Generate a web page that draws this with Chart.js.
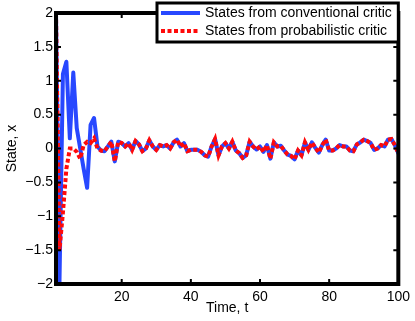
<!DOCTYPE html>
<html>
<head>
<meta charset="utf-8">
<script src="https://cdn.jsdelivr.net/npm/chart.js@4.4.1/dist/chart.umd.min.js"></script>
<style>
  html, body { margin: 0; padding: 0; background: #fff; }
  #wrap { width: 415px; height: 321px; position: relative; }
</style>
</head>
<body>
<div id="wrap"><canvas id="stateChart"></canvas></div>
<script>
// time axis t = 1..100
const timeSteps = Array.from({ length: 100 }, (_, i) => i + 1);

// first 13 steps (the transient) differ between the two critics
const conventionalStart = [2, -2, 1.1, 1.28, 0.15, 1.12, 0.3, 0.0, -0.3, -0.58, 0.35, 0.45, 0.03];
const probabilisticStart = [2, -1.5, -0.95, -0.3, 0.0, 0.0, -0.05, -0.15, 0.05, 0.1, 0.08, 0.15, 0.0];

// t = 14..100, both curves lie on top of each other
const steadyTail = [
  -0.03, -0.04, 0.03, 0.1, -0.19, 0.1, 0.08, 0.03, 0.08, -0.02,
  0.11, 0.06, -0.04, 0.0, 0.12, 0.03, -0.02, 0.05, 0.03, 0.05,
  0.0, 0.09, 0.13, 0.03, 0.08, -0.04, -0.02, -0.02, -0.02, -0.05,
  -0.1, -0.12, 0.03, 0.14, -0.1, 0.03, 0.08, 0.0, 0.1, -0.03,
  -0.07, -0.14, -0.1, 0.1, 0.03, -0.015, 0.03, -0.05, 0.05, -0.15,
  0.09, 0.03, 0.04, -0.03, -0.09, -0.11, -0.16, -0.03, -0.1, 0.09,
  -0.02, 0.09, 0.01, -0.06, 0.05, 0.13, -0.03, -0.03, 0.0, 0.05,
  0.03, 0.03, -0.03, -0.04, 0.06, 0.09, 0.13, 0.11, 0.08, -0.02,
  0.0, 0.05, 0.03, 0.13, 0.14, 0.05, -0.07
];

const conventionalStates = conventionalStart.concat(steadyTail);
const probabilisticStates = probabilisticStart.concat(steadyTail);

const xTickValues = [20, 40, 60, 80, 100];
const seriesLabels = ['States from conventional critic', 'States from probabilistic critic'];

const BLUE = 'rgb(40, 72, 255)';
const RED = 'rgb(255, 10, 10)';
const FONT = 'Liberation Sans, Arial, sans-serif';

// frame, inward ticks and legend box like the matlab figure
const framePlugin = {
  id: 'frame',
  afterDatasetsDraw(chart) {
    const { ctx, chartArea: a, scales } = chart;
    ctx.save();
    ctx.strokeStyle = '#000';
    ctx.lineWidth = 2;
    scales.x.ticks.forEach(t => {
      const px = scales.x.getPixelForValue(t.value);
      ctx.beginPath();
      ctx.moveTo(px, a.bottom); ctx.lineTo(px, a.bottom - 5);
      ctx.moveTo(px, a.top); ctx.lineTo(px, a.top + 5);
      ctx.stroke();
    });
    scales.y.ticks.forEach(t => {
      const py = scales.y.getPixelForValue(t.value);
      ctx.beginPath();
      ctx.moveTo(a.left, py); ctx.lineTo(a.left + 5, py);
      ctx.moveTo(a.right, py); ctx.lineTo(a.right - 5, py);
      ctx.stroke();
    });
    ctx.lineWidth = 4;
    ctx.strokeRect(a.left, a.top, a.right - a.left, a.bottom - a.top);

    // legend
    const bx = 157, by = 3, bw = a.right - bx, bh = 39;
    ctx.fillStyle = '#fff';
    ctx.fillRect(bx, by, bw, bh);
    ctx.lineWidth = 3;
    ctx.strokeRect(bx, by, bw, bh);
    ctx.font = '14px ' + FONT;
    ctx.textBaseline = 'middle';
    ctx.fillStyle = '#000';
    chart.data.datasets.forEach((ds, i) => {
      const y = by + 10 + i * 18;
      ctx.beginPath();
      ctx.strokeStyle = ds.borderColor;
      ctx.lineWidth = 4;
      ctx.setLineDash(ds.borderDash || []);
      ctx.moveTo(bx + 4, y); ctx.lineTo(bx + 43, y);
      ctx.stroke();
      ctx.setLineDash([]);
      ctx.fillText(ds.label, bx + 48, y);
    });
    ctx.restore();
  }
};

new Chart(document.getElementById('stateChart'), {
  type: 'line',
  data: {
    labels: timeSteps,
    datasets: [
      {
        label: seriesLabels[0],
        data: conventionalStates,
        borderColor: BLUE,
        borderWidth: 4,
        pointRadius: 0,
        tension: 0,
        borderJoinStyle: 'round',
        borderCapStyle: 'round',
        order: 1
      },
      {
        label: seriesLabels[1],
        data: probabilisticStates,
        borderColor: RED,
        borderWidth: 4,
        borderDash: [4, 2.5],
        pointRadius: 0,
        tension: 0,
        order: 0
      }
    ]
  },
  options: {
    responsive: true,
    maintainAspectRatio: false,
    animation: false,
    layout: { padding: { top: 13, right: 15, left: 0, bottom: 0 } },
    plugins: { legend: { display: false }, tooltip: { enabled: false } },
    scales: {
      x: {
        type: 'linear',
        min: 1,
        max: 100,
        afterBuildTicks: s => { s.ticks = xTickValues.map(v => ({ value: v })); },
        afterFit: s => { s.height = 37; },
        grid: { display: false, drawTicks: false },
        border: { display: false },
        ticks: { color: '#000', padding: 5, maxRotation: 0, font: { family: FONT, size: 14 } },
        title: { display: true, text: 'Time, t', color: '#000', padding: { top: -3, bottom: 4 }, font: { family: FONT, size: 14 } }
      },
      y: {
        min: -2,
        max: 2,
        afterFit: s => { s.width = 56; },
        grid: { display: false, drawTicks: false },
        border: { display: false },
        ticks: {
          stepSize: 0.5,
          color: '#000',
          padding: 3,
          font: { family: FONT, size: 14 },
          callback: v => String(v).replace('-', '\u2212')
        },
        title: { display: true, text: 'State, x', color: '#000', padding: { top: 4, bottom: 0 }, font: { family: FONT, size: 14 } }
      }
    }
  },
  plugins: [framePlugin]
});
</script>
</body>
</html>
